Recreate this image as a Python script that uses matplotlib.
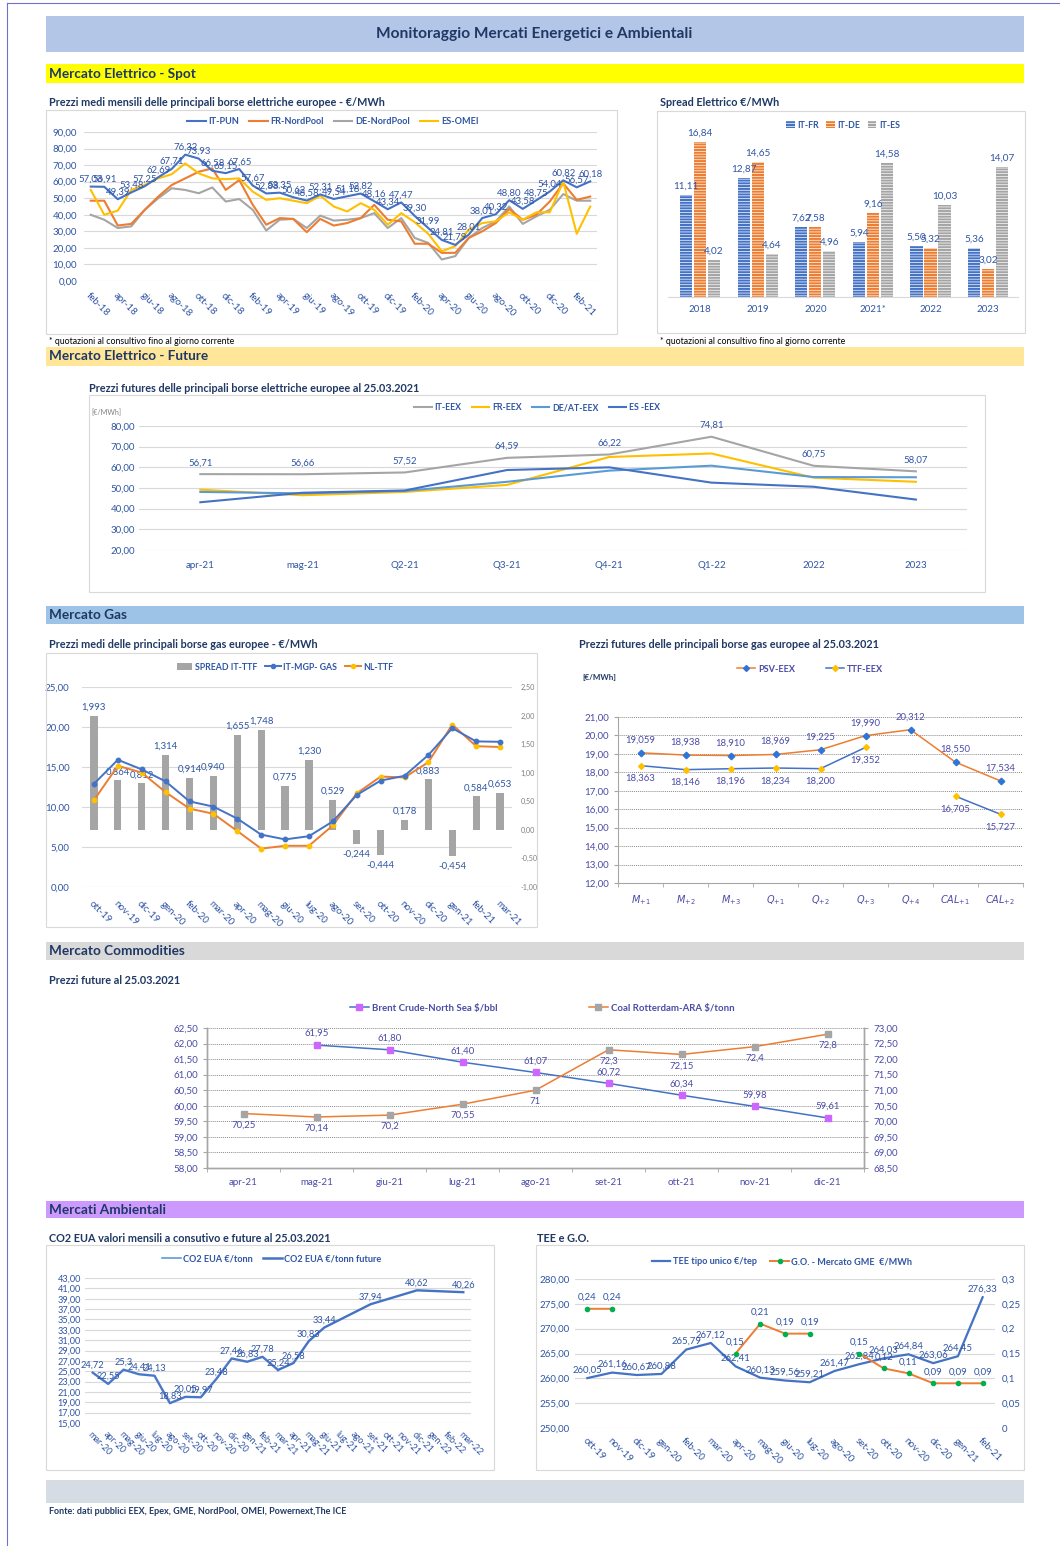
import matplotlib
matplotlib.use('Agg')
import matplotlib.pyplot as plt
from matplotlib.patches import Rectangle, Patch
from matplotlib.lines import Line2D
from matplotlib.ticker import FuncFormatter, FixedLocator
import numpy as np

# ---------------- DATA ----------------
spot_months = ['feb-18', 'mar-18', 'apr-18', 'mag-18', 'giu-18', 'lug-18', 'ago-18', 'set-18', 'ott-18', 'nov-18',
               'dic-18', 'gen-19', 'feb-19', 'mar-19', 'apr-19', 'mag-19', 'giu-19', 'lug-19', 'ago-19', 'set-19',
               'ott-19', 'nov-19', 'dic-19', 'gen-20', 'feb-20', 'mar-20', 'apr-20', 'mag-20', 'giu-20', 'lug-20',
               'ago-20', 'set-20', 'ott-20', 'nov-20', 'dic-20', 'gen-21', 'feb-21', 'mar-21']
it_pun = [57.03, 56.91, 49.39, 53.48, 57.25, 62.69, 67.71, 76.32, 73.93, 66.58, 65.15, 67.65, 57.67, 52.88,
          53.35, 50.62, 48.58, 52.31, 49.54, 51.18, 52.82, 48.16, 43.34, 47.47, 39.30, 31.99, 24.81, 21.79,
          28.01, 38.01, 40.32, 48.80, 43.58, 48.75, 54.04, 60.82, 56.57, 60.18]
fr_nordpool = [48.5, 48.5, 33.5, 34.5, 43, 51, 58, 62, 66, 68, 55, 61, 46, 34, 38, 37.5, 29.5, 37.5, 33.5,
               35, 38, 46, 37, 36, 22.5, 22.5, 17, 17, 26, 30, 35, 43.5, 37, 40, 48, 59, 49, 51]
de_nordpool = [40, 37, 32, 33, 43, 50, 56, 55, 53, 56.5, 48, 49.5, 43, 30.5, 37, 37.5, 32, 39.5, 36.5,
               37, 38, 41, 32, 38, 26, 23, 13, 15, 26, 32, 36, 45, 34.5, 39, 43, 52.5, 48.5, 48.5]
es_omei = [55, 40, 42.5, 55, 58, 62, 64.5, 71, 65, 62, 61.5, 62, 54, 49, 50, 48.5, 47, 51.5, 45,
           42, 47, 43, 34, 41, 35.5, 28.5, 18, 21, 31, 35, 36, 41.5, 37, 41.5, 41.5, 60, 28.5, 45]

spread_years = ['2018', '2019', '2020', '2021*', '2022', '2023']
spread_it_fr = [11.11, 12.87, 7.62, 5.94, 5.50, 5.36]
spread_it_de = [16.84, 14.65, 7.58, 9.16, 5.32, 3.02]
spread_it_es = [4.02, 4.64, 4.96, 14.58, 10.03, 14.07]

fut_cats = ['apr-21', 'mag-21', 'Q2-21', 'Q3-21', 'Q4-21', 'Q1-22', '2022', '2023']
it_eex = [56.71, 56.66, 57.52, 64.59, 66.22, 74.81, 60.75, 58.07]
fr_eex = [49.2, 46.5, 48.1, 51.5, 65.0, 66.7, 55.0, 53.0]
deat_eex = [48.1, 47.4, 48.6, 53.0, 58.4, 60.8, 55.3, 55.2]
es_eex = [43.1, 47.7, 48.8, 58.7, 60.0, 52.6, 50.6, 44.4]

gas_months = ['ott-19', 'nov-19', 'dic-19', 'gen-20', 'feb-20', 'mar-20', 'apr-20', 'mag-20', 'giu-20',
              'lug-20', 'ago-20', 'set-20', 'ott-20', 'nov-20', 'dic-20', 'gen-21', 'feb-21', 'mar-21']
spread_it_ttf = [1.993, 0.864, 0.812, 1.314, 0.914, 0.940, 1.655, 1.748, 0.775, 1.230, 0.529, -0.244,
                 -0.444, 0.178, 0.883, -0.454, 0.584, 0.653]
it_mgp_gas = [12.9, 15.9, 14.7, 13.2, 10.7, 10.05, 8.55, 6.55, 5.95, 6.35, 8.2, 11.5, 13.3, 13.9, 16.5,
              19.85, 18.2, 18.15]
nl_ttf = [10.85, 15.15, 14.3, 11.85, 9.8, 9.15, 7.0, 4.8, 5.15, 5.15, 7.7, 11.7, 13.8, 13.7, 15.6, 20.3,
          17.6, 17.5]

gasfut_cats = [r'$M_{+1}$', r'$M_{+2}$', r'$M_{+3}$', r'$Q_{+1}$', r'$Q_{+2}$', r'$Q_{+3}$', r'$Q_{+4}$',
               r'$CAL_{+1}$', r'$CAL_{+2}$']
psv_eex = [19.059, 18.938, 18.910, 18.969, 19.225, 19.990, 20.312, 18.550, 17.534]
ttf_eex = [18.363, 18.146, 18.196, 18.234, 18.200, 19.352, np.nan, 16.705, 15.727]

comm_months = ['apr-21', 'mag-21', 'giu-21', 'lug-21', 'ago-21', 'set-21', 'ott-21', 'nov-21', 'dic-21']
brent = [np.nan, 61.95, 61.80, 61.40, 61.07, 60.72, 60.34, 59.98, 59.61]
coal = [70.25, 70.14, 70.2, 70.55, 71, 72.3, 72.15, 72.4, 72.8]

co2_months = ['mar-20', 'apr-20', 'mag-20', 'giu-20', 'lug-20', 'ago-20', 'set-20', 'ott-20', 'nov-20',
              'dic-20', 'gen-21', 'feb-21', 'mar-21', 'apr-21', 'mag-21', 'giu-21', 'lug-21', 'ago-21',
              'set-21', 'ott-21', 'nov-21', 'dic-21', 'gen-22', 'feb-22', 'mar-22']
co2_hist = [24.72, 22.55, 25.3, 24.41, 24.13, 18.83, 20.05, 19.97, 23.48, 27.46, 26.83, 27.78, 25.24]
co2_future = [np.nan] * 12 + [25.24, 26.58, 30.83, 33.44, np.nan, np.nan, 37.94, np.nan, np.nan, 40.62,
                              np.nan, np.nan, 40.26]

tee_months = ['ott-19', 'nov-19', 'dic-19', 'gen-20', 'feb-20', 'mar-20', 'apr-20', 'mag-20', 'giu-20',
              'lug-20', 'ago-20', 'set-20', 'ott-20', 'nov-20', 'dic-20', 'gen-21', 'feb-21']
tee_values = [260.05, 261.16, 260.67, 260.88, 265.79, 267.12, 262.41, 260.13, 259.56, 259.21, 261.47,
              262.84, 264.03, 264.84, 263.06, 264.45, 276.33]
go_values = [0.24, 0.24, np.nan, np.nan, np.nan, np.nan, 0.15, 0.21, 0.19, 0.19, np.nan, 0.15, 0.12,
             0.11, 0.09, 0.09, 0.09]

# ---------------- STYLE ----------------
W, H = 1060, 1546
plt.rcParams['font.family'] = ['Lato', 'DejaVu Sans']
plt.rcParams['hatch.linewidth'] = 0.5
BLUE = '#4472C4'
LBLUE = '#5B9BD5'
ORANGE = '#ED7D31'
GRAY = '#A5A5A5'
YELLOW = '#FFC000'
TXT = '#2F55A4'
NAVY = '#1F3864'
SLATE = '#4B4BA8'
GRID = '#D9D9D9'
BOX = '#D9D9D9'
TICK = 7.0     # tick label size
DLAB = 6.9     # data label size
LEG = 6.6      # legend size

fig = plt.figure(figsize=(W / 100, H / 100), dpi=100)
fig.patch.set_facecolor('white')


def axpx(l, t, r, b):
    return fig.add_axes([l / W, 1 - b / H, (r - l) / W, (b - t) / H])


def ftext(x, y, s, **kw):
    kw.setdefault('va', 'center')
    return fig.text(x / W, 1 - y / H, s, **kw)


def frect(x0, y0, x1, y1, fc, ec='none', lw=0.8, z=0):
    fig.patches.append(Rectangle((x0 / W, 1 - y1 / H), (x1 - x0) / W, (y1 - y0) / H,
                                 transform=fig.transFigure, facecolor=fc, edgecolor=ec,
                                 linewidth=lw, zorder=z))


def fmt2(v):
    return f"{v:.2f}".replace('.', ',')


def fmt3(v):
    return f"{v:.3f}".replace('.', ',')


def fmtg(v):
    return f"{v:g}".replace('.', ',')


def flegend(handles, labels, cx, cy, color=TXT, size=LEG, **kw):
    lg = fig.legend(handles, labels, loc='center', bbox_to_anchor=(cx / W, 1 - cy / H),
                    bbox_transform=fig.transFigure, ncol=len(handles), frameon=False,
                    prop=dict(size=size, weight='bold'), labelcolor=color, handlelength=kw.pop('hl', 2.0),
                    columnspacing=kw.pop('cs', 1.3), handletextpad=0.3, borderpad=0, **kw)
    return lg


def clean(ax):
    for s in ax.spines.values():
        s.set_visible(False)


# ---------------- PAGE FRAME ----------------
fig.add_artist(Line2D([7 / W, 7 / W], [0, 1 - 3 / H], transform=fig.transFigure, color='#7070D0', lw=0.8))
fig.add_artist(Line2D([7 / W, 1], [1 - 3 / H, 1 - 3 / H], transform=fig.transFigure, color='#7070D0', lw=0.8))

frect(46, 16, 1024, 52, '#B4C6E7')
ftext(534, 34, 'Monitoraggio Mercati Energetici e Ambientali', ha='center', fontsize=11.2,
      weight='bold', color=NAVY)

sections = [(64, 83, '#FFFF00', 'Mercato Elettrico - Spot'),
            (347, 366, '#FFE699', 'Mercato Elettrico - Future'),
            (606, 624, '#9DC3E6', 'Mercato Gas'),
            (942, 960, '#D9D9D9', 'Mercato Commodities'),
            (1201, 1218, '#CC99FF', 'Mercati Ambientali')]
for y0, y1, c, t in sections:
    frect(46, y0, 1024, y1, c)
    ftext(49, (y0 + y1) / 2, t, ha='left', fontsize=9.8, weight='bold', color=NAVY)

frect(46, 1480, 1024, 1503, '#D6DCE4')
ftext(49, 1511, 'Fonte: dati pubblici EEX, Epex, GME, NordPool, OMEI, Powernext,The ICE', ha='left',
      fontsize=6.5, weight='bold', color=NAVY)

# boxes
for (x0, y0, x1, y1) in [(46, 110, 617, 334), (657, 111, 1025, 333), (89, 395, 985, 592),
                         (46, 653, 537, 927), (46, 1245, 494, 1470), (536, 1245, 1024, 1470)]:
    frect(x0, y0, x1, y1, 'none', ec=BOX, lw=0.8, z=0)

titles = [(49, 103, 'Prezzi medi mensili delle principali borse elettriche europee - €/MWh'),
          (660, 103, 'Spread Elettrico €/MWh'),
          (89, 389, 'Prezzi futures delle principali borse elettriche europee al 25.03.2021'),
          (49, 644, 'Prezzi medi delle principali borse gas europee - €/MWh'),
          (579, 644, 'Prezzi futures delle principali borse gas europee al 25.03.2021'),
          (49, 980, 'Prezzi future al 25.03.2021'),
          (49, 1239, 'CO2 EUA valori mensili a consutivo e future al 25.03.2021'),
          (537, 1239, 'TEE e G.O.')]
for x, y, t in titles:
    ftext(x, y, t, ha='left', fontsize=7.8, weight='bold', color=NAVY)

ftext(49, 342, '* quotazioni al consultivo fino al giorno corrente', ha='left', fontsize=6.3, color='black')
ftext(660, 342, '* quotazioni al consultivo fino al giorno corrente', ha='left', fontsize=6.3, color='black')

# ---------------- SPOT CHART ----------------
ax = axpx(84, 132, 597, 281)
x = np.arange(len(spot_months))
ax.plot(x, de_nordpool, color=GRAY, lw=1.5)
ax.plot(x, fr_nordpool, color=ORANGE, lw=1.5)
ax.plot(x, es_omei, color=YELLOW, lw=1.5)
ax.plot(x, it_pun, color=BLUE, lw=1.5)
ax.set_xlim(-0.5, len(x) - 0.5)
ax.set_ylim(0, 90)
ax.set_yticks(np.arange(0, 91, 10))
ax.yaxis.set_major_formatter(FuncFormatter(lambda v, p: fmt2(v)))
ax.grid(axis='y', color=GRID, lw=0.8)
ax.set_axisbelow(True)
clean(ax)
ax.tick_params(axis='both', length=0, labelsize=TICK, labelcolor=TXT)
ax.tick_params(axis='y', pad=5)
ax.set_xticks(x[::2])
ax.set_xticklabels(spot_months[::2], rotation=-45, ha='left', va='top', rotation_mode='anchor')
ax.tick_params(axis='x', pad=7)
for xi, v in zip(x, it_pun):
    ax.annotate(fmt2(v), (xi, v), xytext=(0, 2.0), textcoords='offset points', ha='center', va='bottom',
                fontsize=DLAB, color=TXT)
flegend([Line2D([], [], color=c, lw=1.5) for c in (BLUE, ORANGE, GRAY, YELLOW)],
        ['IT-PUN', 'FR-NordPool', 'DE-NordPool', 'ES-OMEI'], 333, 122, cs=1.1)

# ---------------- SPREAD CHART ----------------
ax = axpx(668, 131, 1018, 297)
xs = np.arange(len(spread_years))
bw, step = 0.21, 0.243
for k, (vals, c) in enumerate([(spread_it_fr, BLUE), (spread_it_de, ORANGE), (spread_it_es, GRAY)]):
    pos = xs + (k - 1) * step
    ax.bar(pos, vals, width=bw, color=c, edgecolor='white', hatch='------', linewidth=0)
    for p, v in zip(pos, vals):
        ax.annotate(fmt2(v), (p, v), xytext=(0, 3), textcoords='offset points', ha='center',
                    va='bottom', fontsize=7.2, color=TXT)
ax.set_xlim(-0.56, 5.52)
ax.set_ylim(0, 18)
clean(ax)
ax.spines['bottom'].set_visible(True)
ax.spines['bottom'].set_color(GRID)
ax.set_yticks([])
ax.set_xticks(xs)
ax.set_xticklabels(spread_years)
ax.tick_params(axis='x', length=0, labelsize=7.0, labelcolor=TXT, pad=6)
flegend([Patch(facecolor=c, edgecolor='white', hatch='------', lw=0) for c in (BLUE, ORANGE, GRAY)],
        ['IT-FR', 'IT-DE', 'IT-ES'], 843, 125, size=6.3, hl=1.0, cs=0.8)

# ---------------- ELECTRIC FUTURES ----------------
ax = axpx(139, 426, 967, 550)
xf = np.arange(len(fut_cats))
ax.plot(xf, it_eex, color=GRAY, lw=1.5)
ax.plot(xf, fr_eex, color=YELLOW, lw=1.5)
ax.plot(xf, deat_eex, color=LBLUE, lw=1.5)
ax.plot(xf, es_eex, color=BLUE, lw=1.5)
for xi, v in zip(xf, it_eex):
    ax.annotate(fmt2(v), (xi, v), xytext=(0, 5), textcoords='offset points', ha='center', va='bottom',
                fontsize=DLAB, color=TXT)
ax.set_xlim(-0.6, 7.5)
ax.set_ylim(20, 80)
ax.set_yticks(np.arange(20, 81, 10))
ax.yaxis.set_major_formatter(FuncFormatter(lambda v, p: fmt2(v)))
ax.grid(axis='y', color=GRID, lw=0.8)
ax.set_axisbelow(True)
clean(ax)
ax.set_xticks(xf)
ax.set_xticklabels(fut_cats)
ax.tick_params(axis='both', length=0, labelsize=TICK, labelcolor=TXT)
ax.tick_params(axis='x', pad=8)
ax.tick_params(axis='y', pad=3)
ftext(91, 413, '[€/MWh]', ha='left', fontsize=5.2, color='#808080')
flegend([Line2D([], [], color=c, lw=1.5) for c in (GRAY, YELLOW, LBLUE, BLUE)],
        ['IT-EEX', 'FR-EEX', 'DE/AT-EEX', 'ES -EEX'], 537, 408, size=6.3, cs=1.2)

# ---------------- GAS SPOT ----------------
axb = axpx(82, 687, 512, 887)
xg = np.arange(len(gas_months))
axl = axb.twinx()
ymin_r, ymax_r, ymin_l, ymax_l = -1.0, 2.5, 0.0, 25.0
for v in np.arange(0, 26, 5):
    axb.axhline(ymin_r + (v - ymin_l) * (ymax_r - ymin_r) / (ymax_l - ymin_l), color=GRID, lw=0.8, zorder=0)
axb.bar(xg, spread_it_ttf, width=0.3, color=GRAY, zorder=2)
for xi, v in zip(xg, spread_it_ttf):
    if v >= 0:
        axb.annotate(fmt3(v), (xi, v), xytext=(0, 3), textcoords='offset points',
                     ha='center', va='bottom', fontsize=DLAB, color=TXT, zorder=5)
    else:
        axb.annotate(fmt3(v), (xi, v), xytext=(0, -4), textcoords='offset points',
                     ha='center', va='top', fontsize=DLAB, color=TXT, zorder=5)
axb.set_ylim(ymin_r, ymax_r)
axb.set_xlim(-0.5, len(xg) - 0.5)
axb.set_yticks(np.arange(-1.0, 2.51, 0.5))
axb.yaxis.set_major_formatter(FuncFormatter(lambda v, p: fmt2(v)))
axb.yaxis.set_ticks_position('right')
axb.tick_params(axis='y', length=0, labelsize=5.2, labelcolor='#7F7F7F', pad=6)
axl.plot(xg, nl_ttf, color=ORANGE, lw=1.4, marker='o', ms=3.2, mfc=YELLOW, mec=YELLOW)
axl.plot(xg, it_mgp_gas, color=BLUE, lw=1.4, marker='o', ms=3.2, mfc=BLUE, mec=BLUE)
axl.set_ylim(ymin_l, ymax_l)
axl.set_yticks(np.arange(0, 26, 5))
axl.yaxis.set_major_formatter(FuncFormatter(lambda v, p: fmt2(v)))
axl.yaxis.set_ticks_position('left')
axl.tick_params(axis='y', length=0, labelsize=TICK, labelcolor=TXT, pad=9)
clean(axb)
clean(axl)
axb.set_xticks(xg)
axb.set_xticklabels(gas_months, rotation=-45, ha='left', va='top', rotation_mode='anchor')
axb.tick_params(axis='x', length=0, labelsize=TICK, labelcolor=TXT, pad=9)
flegend([Patch(facecolor=GRAY),
         Line2D([], [], color=BLUE, lw=1.4, marker='o', ms=3),
         Line2D([], [], color=ORANGE, lw=1.4, marker='o', ms=3, mfc=YELLOW, mec=YELLOW)],
        ['SPREAD IT-TTF', 'IT-MGP- GAS', 'NL-TTF'], 285, 667, size=6.3, hl=1.8, cs=0.9)

# ---------------- GAS FUTURES ----------------
ax = axpx(618, 717, 1023, 883)
xq = np.arange(len(gasfut_cats))
ax.plot(xq, psv_eex, color=ORANGE, lw=1.1, marker='D', ms=3.3, mfc='#2E75D6', mec='#2E75D6', zorder=3)
ttf_arr = np.array(ttf_eex)
ax.plot(xq, ttf_arr, color=BLUE, lw=1.1, marker='D', ms=3.0, mfc=YELLOW, mec=YELLOW, zorder=3)
for xi, v in zip(xq, psv_eex):
    ax.annotate(fmt3(v), (xi, v), xytext=(0, 6), textcoords='offset points', ha='center', va='bottom',
                fontsize=DLAB, color=SLATE)
for xi, v in zip(xq, ttf_eex):
    if np.isnan(v):
        continue
    ax.annotate(fmt3(v), (xi, v), xytext=(0, -6), textcoords='offset points', ha='center', va='top',
                fontsize=DLAB, color=SLATE)
ax.set_xlim(-0.5, len(xq) - 0.5)
ax.set_ylim(12, 21)
ax.set_yticks(np.arange(12, 21.1, 1))
ax.yaxis.set_major_formatter(FuncFormatter(lambda v, p: fmt2(v)))
ax.grid(axis='y', color='#8C8C8C', lw=0.7, linestyle=(0, (1, 1)))
ax.set_axisbelow(True)
for s in ('top', 'right'):
    ax.spines[s].set_visible(False)
for s in ('left', 'bottom'):
    ax.spines[s].set_color('#A6A6A6')
ax.set_xticks(xq)
ax.set_xticklabels(gasfut_cats)
ax.xaxis.set_minor_locator(FixedLocator(np.arange(-0.5, len(xq), 1.0)))
ax.tick_params(axis='x', which='major', length=0, labelsize=7.0, labelcolor=SLATE, pad=7)
ax.tick_params(axis='x', which='minor', length=3, color='#A6A6A6')
ax.tick_params(axis='y', length=3, color='#A6A6A6', labelsize=TICK, labelcolor=SLATE)
ftext(582, 677, '[€/MWh]', ha='left', fontsize=5.8, weight='bold', color=NAVY)
flegend([Line2D([], [], color=ORANGE, lw=1.1, marker='D', ms=3, mfc='#2E75D6', mec='#2E75D6'),
         Line2D([], [], color=BLUE, lw=1.1, marker='D', ms=3, mfc=YELLOW, mec=YELLOW)],
        ['PSV-EEX', 'TTF-EEX'], 810, 669, color=SLATE, cs=3.4)

# ---------------- COMMODITIES ----------------
ax = axpx(207, 1028, 864, 1168)
xc = np.arange(len(comm_months))
ax2 = ax.twinx()
ax.plot(xc, brent, color=BLUE, lw=1.1, marker='s', ms=4.2, mfc='#CC66FF', mec='#CC66FF', zorder=3)
ax2.plot(xc, coal, color=ORANGE, lw=1.1, marker='s', ms=4.2, mfc=GRAY, mec=GRAY, zorder=3)
for xi, v in zip(xc, brent):
    if np.isnan(v):
        continue
    ax.annotate(fmt2(v), (xi, v), xytext=(0, 5), textcoords='offset points', ha='center', va='bottom',
                fontsize=DLAB, color=SLATE)
for xi, v in zip(xc, coal):
    ax2.annotate(fmtg(v), (xi, v), xytext=(0, -5), textcoords='offset points', ha='center', va='top',
                 fontsize=DLAB, color=SLATE)
ax.set_xlim(-0.5, len(xc) - 0.5)
ax.set_ylim(58, 62.5)
ax.set_yticks(np.arange(58, 62.51, 0.5))
ax.yaxis.set_major_formatter(FuncFormatter(lambda v, p: fmt2(v)))
ax2.set_ylim(68.5, 73)
ax2.set_yticks(np.arange(68.5, 73.01, 0.5))
ax2.yaxis.set_major_formatter(FuncFormatter(lambda v, p: fmt2(v)))
ax.grid(axis='y', color='#8C8C8C', lw=0.7, linestyle=(0, (1, 1)))
ax.set_axisbelow(True)
for a in (ax, ax2):
    a.spines['top'].set_visible(False)
    for s in ('left', 'right', 'bottom'):
        a.spines[s].set_color('#A6A6A6')
        a.spines[s].set_linewidth(1.0)
ax.set_xticks(xc)
ax.set_xticklabels(comm_months)
ax.xaxis.set_minor_locator(FixedLocator(np.arange(-0.5, len(xc), 1.0)))
ax.tick_params(axis='x', which='major', length=0, labelsize=TICK, labelcolor=SLATE, pad=7)
ax.tick_params(axis='x', which='minor', length=3, color='#A6A6A6')
ax.tick_params(axis='y', length=3, color='#A6A6A6', labelsize=TICK, labelcolor=SLATE)
ax2.tick_params(axis='y', length=3, color='#A6A6A6', labelsize=TICK, labelcolor=SLATE)
flegend([Line2D([], [], color=BLUE, lw=1.1, marker='s', ms=4, mfc='#CC66FF', mec='#CC66FF'),
         Line2D([], [], color=ORANGE, lw=1.1, marker='s', ms=4, mfc=GRAY, mec=GRAY)],
        ['Brent Crude-North Sea $/bbl', 'Coal Rotterdam-ARA $/tonn'], 542, 1008, color=SLATE, size=6.9,
        cs=9.5)

# ---------------- CO2 ----------------
ax = axpx(85, 1278, 471, 1423)
xco = np.arange(len(co2_months))
fut = np.array(co2_future, dtype=float)
m = ~np.isnan(fut)
ax.plot(xco[m], fut[m], color=BLUE, lw=1.7)
ax.plot(xco[:len(co2_hist)], co2_hist, color='#4A78C8', lw=1.7)
for xi, v in zip(xco, co2_hist):
    ax.annotate(fmtg(v), (xi, v), xytext=(0, 2.0), textcoords='offset points', ha='center', va='bottom',
                fontsize=6.7, color=TXT)
for xi, v in zip(xco[m], fut[m]):
    if xi < len(co2_hist):
        continue
    ax.annotate(fmt2(v), (xi, v), xytext=(0, 2.0), textcoords='offset points', ha='center', va='bottom',
                fontsize=6.7, color=TXT)
ax.set_xlim(-0.5, len(xco) - 0.5)
ax.set_ylim(15, 43)
ax.set_yticks(np.arange(15, 43.1, 2))
ax.yaxis.set_major_formatter(FuncFormatter(lambda v, p: fmt2(v)))
ax.grid(axis='y', color=GRID, lw=0.8)
ax.set_axisbelow(True)
clean(ax)
ax.set_xticks(xco)
ax.set_xticklabels(co2_months, rotation=-45, ha='left', va='top', rotation_mode='anchor')
ax.tick_params(axis='both', length=0, labelsize=6.6, labelcolor=TXT)
ax.tick_params(axis='x', pad=5)
ax.tick_params(axis='y', pad=3)
flegend([Line2D([], [], color=LBLUE, lw=1.2), Line2D([], [], color=BLUE, lw=1.8)],
        ['CO2 EUA €/tonn', 'CO2 EUA €/tonn future'], 272, 1259, cs=1.1)

# ---------------- TEE & GO ----------------
ax = axpx(575, 1279, 995, 1428)
xt = np.arange(len(tee_months))
ax2 = ax.twinx()
ax.plot(xt, tee_values, color=BLUE, lw=1.6, zorder=3)
go = np.array(go_values, dtype=float)
ax2.plot(xt, go, color=ORANGE, lw=1.4, marker='o', ms=3, mfc='#00B050', mec='#00B050', zorder=3)
for xi, v in zip(xt, tee_values):
    ax.annotate(fmt2(v), (xi, v), xytext=(0, 2.5), textcoords='offset points', ha='center', va='bottom',
                fontsize=DLAB, color=TXT)
for xi, v in zip(xt, go):
    if np.isnan(v):
        continue
    ax2.annotate(fmt2(v), (xi, v), xytext=(0, 5), textcoords='offset points', ha='center', va='bottom',
                 fontsize=DLAB, color=TXT)
ax.set_xlim(-0.5, len(xt) - 0.5)
ax.set_ylim(250, 280)
ax.set_yticks(np.arange(250, 280.1, 5))
ax.yaxis.set_major_formatter(FuncFormatter(lambda v, p: fmt2(v)))
ax2.set_ylim(0, 0.3)
ax2.set_yticks(np.arange(0, 0.301, 0.05))
ax2.yaxis.set_major_formatter(FuncFormatter(lambda v, p: fmtg(round(v, 2))))
ax.grid(axis='y', color=GRID, lw=0.8)
ax.set_axisbelow(True)
clean(ax)
clean(ax2)
ax.set_xticks(xt)
ax.set_xticklabels(tee_months, rotation=-45, ha='left', va='top', rotation_mode='anchor')
ax.tick_params(axis='both', length=0, labelsize=TICK, labelcolor=TXT)
ax.tick_params(axis='x', pad=6)
ax.tick_params(axis='y', pad=4)
ax2.tick_params(axis='y', length=0, labelsize=TICK, labelcolor=TXT, pad=5)
flegend([Line2D([], [], color=BLUE, lw=1.6),
         Line2D([], [], color=ORANGE, lw=1.4, marker='o', ms=3, mfc='#00B050', mec='#00B050')],
        ['TEE tipo unico €/tep', 'G.O. - Mercato GME  €/MWh'], 782, 1262, cs=1.5)

fig.savefig('out.png', dpi=100, facecolor='white')
